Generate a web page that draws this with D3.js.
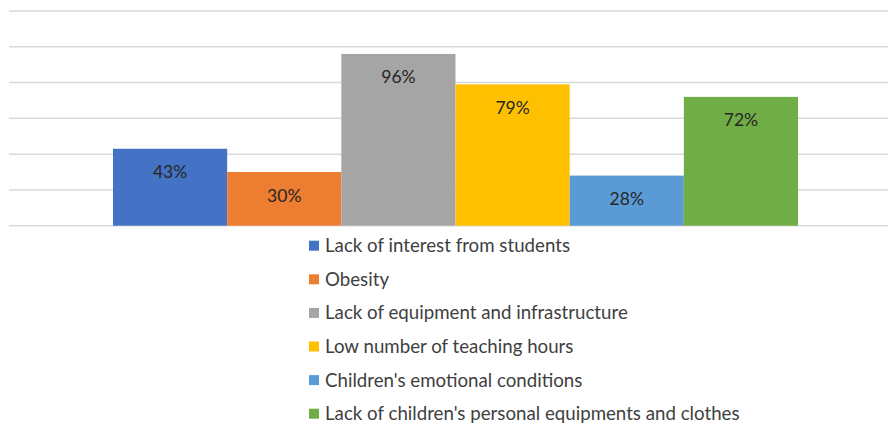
<!DOCTYPE html>
<html>
<head>
<meta charset="utf-8">
<script src="https://cdn.jsdelivr.net/npm/d3@7"></script>
<style>
  body { margin: 0; background: #fff; }
  svg { display: block; font-family: Lato, "Open Sans", sans-serif; }
</style>
</head>
<body>
<svg width="888" height="423"></svg>
<script>
var categories = [
  "Lack of interest from students",
  "Obesity",
  "Lack of equipment and infrastructure",
  "Low number of teaching hours",
  "Children's emotional conditions",
  "Lack of children's personal equipments and clothes"
];
var values = [43, 30, 96, 79, 28, 72];
var colors = ["#4472C4", "#ED7D31", "#A5A5A5", "#FFC000", "#5B9BD5", "#70AD47"];
var gridTicks = [0, 20, 40, 60, 80, 100, 120];

var width = 888;
var height = 423;

var svg = d3.select("svg");

var yScale = d3.scaleLinear()
  .domain([0, 120])
  .range([225.7, 11]);

var xScale = d3.scaleBand()
  .domain(categories)
  .range([113, 798])
  .padding(0);

// gridlines
svg.append("g")
  .selectAll("line")
  .data(gridTicks)
  .enter()
  .append("line")
    .attr("x1", 9)
    .attr("x2", width)
    .attr("y1", d => yScale(d))
    .attr("y2", d => yScale(d))
    .attr("stroke", "#d9d9d9")
    .attr("stroke-width", 1.5);

// bars
svg.append("g")
  .selectAll("rect")
  .data(values)
  .enter()
  .append("rect")
    .attr("x", (d, i) => xScale(categories[i]))
    .attr("y", d => yScale(d))
    .attr("width", xScale.bandwidth())
    .attr("height", d => yScale(0) - yScale(d))
    .attr("fill", (d, i) => colors[i]);

// value labels
svg.append("g")
  .selectAll("text")
  .data(values)
  .enter()
  .append("text")
    .attr("x", (d, i) => xScale(categories[i]) + xScale.bandwidth() / 2)
    .attr("y", d => yScale(d) + 29.5)
    .attr("text-anchor", "middle")
    .attr("font-size", 17.5)
    .attr("fill", "#262626")
    .text(d => d + "%");

// legend (last row sits at the bottom edge, as in the source)
var legend = svg.append("g")
  .selectAll("g")
  .data(categories)
  .enter()
  .append("g")
    .attr("transform", (d, i) => "translate(309," + (245.7 + i * 33.6) + ")");

legend.append("rect")
  .attr("x", 0)
  .attr("y", -5)
  .attr("width", 10)
  .attr("height", 10)
  .attr("fill", (d, i) => colors[i]);

legend.append("text")
  .attr("x", 16)
  .attr("y", 6.5)
  .attr("font-size", 18.7)
  .attr("fill", "#404040")
  .text(d => d);
</script>
</body>
</html>
